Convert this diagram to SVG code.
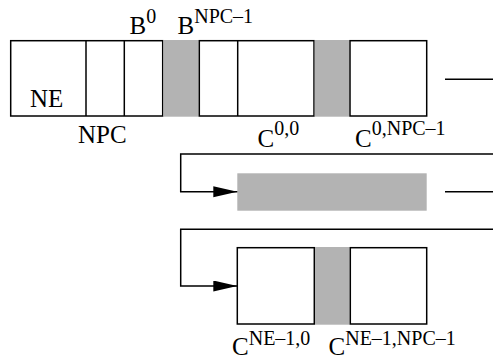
<svg xmlns="http://www.w3.org/2000/svg" width="493" height="358" viewBox="0 0 493 358">
<style>
.box{fill:#fff;stroke:#000;stroke-width:1.5}
.gap{fill:#b3b3b3;stroke:none}
.ln{fill:none;stroke:#000;stroke-width:1.5}
.lbl{font-family:"Liberation Serif","Times New Roman",serif;font-size:25px;fill:#000}
.sup{font-size:20px}
</style>
<defs>
<marker id="ah" markerUnits="userSpaceOnUse" markerWidth="25" markerHeight="12" refX="24" refY="5.5" orient="auto">
<path d="M0,0 L24,5.5 L0,11 Z" fill="#000"/>
</marker>
</defs>
<rect width="493" height="358" fill="#fff"/>
<g id="b-array">
<rect class="box" x="10.7" y="40.7" width="152" height="75.3"/>
<line class="ln" x1="86" y1="40.7" x2="86" y2="116"/>
<line class="ln" x1="124.3" y1="40.7" x2="124.3" y2="116"/>
<rect class="gap" x="163.4" y="40" width="35.2" height="76.7"/>
<rect class="box" x="199.3" y="40.7" width="114.7" height="75.3"/>
<line class="ln" x1="237.7" y1="40.7" x2="237.7" y2="116"/>
<text class="lbl" x="30" y="106.5">NE</text>
<text class="lbl" x="78" y="142.5">NPC</text>
<text class="lbl" x="129.5" y="34">B<tspan class="sup" dy="-11">0</tspan></text>
<text class="lbl" x="177.5" y="34">B<tspan class="sup" dy="-11">NPC–1</tspan></text>
</g>
<g id="c-row-0">
<rect class="gap" x="314.7" y="40" width="34.6" height="76.7"/>
<rect class="box" x="350" y="40.7" width="76.7" height="75.3"/>
<text class="lbl" x="257.5" y="147">C<tspan class="sup" dy="-12">0,0</tspan></text>
<text class="lbl" x="355" y="147">C<tspan class="sup" dy="-12">0,NPC–1</tspan></text>
</g>
<g id="c-row-middle">
<rect class="gap" x="237.3" y="173.3" width="189.4" height="37.4"/>
</g>
<g id="c-row-last">
<rect class="box" x="237.3" y="247.7" width="77" height="76.3"/>
<rect class="gap" x="315" y="247" width="34.6" height="77.7"/>
<rect class="box" x="350.3" y="247.7" width="76.4" height="76.3"/>
<text class="lbl" x="232" y="354.5">C<tspan class="sup" dy="-10">NE–1,0</tspan></text>
<text class="lbl" x="328.5" y="354.5">C<tspan class="sup" dy="-10">NE–1,NPC–1</tspan></text>
</g>
<g id="connectors">
<line class="ln" x1="445" y1="79.3" x2="493" y2="79.3"/>
<path class="ln" d="M493,154 H180.7 V191.7 H237.3" marker-end="url(#ah)"/>
<line class="ln" x1="445" y1="191.7" x2="493" y2="191.7"/>
<path class="ln" d="M493,229.3 H180.7 V286 H237.3" marker-end="url(#ah)"/>
</g>
</svg>
